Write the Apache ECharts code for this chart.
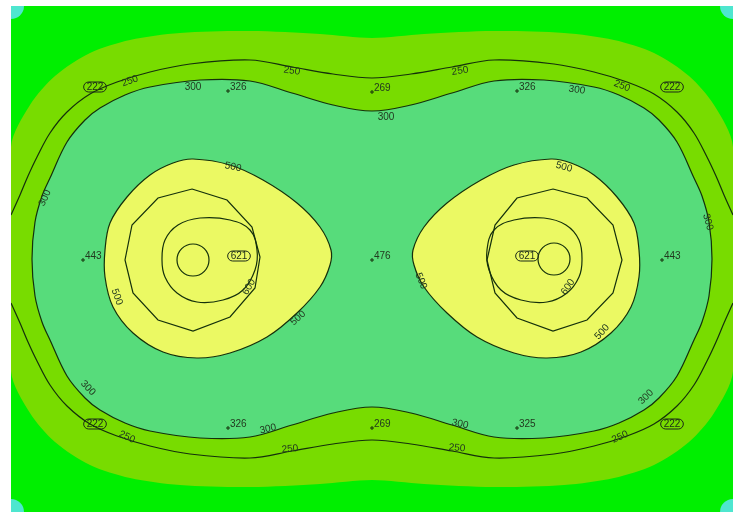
<!DOCTYPE html>
<html><head><meta charset="utf-8">
<script src="https://cdn.jsdelivr.net/npm/echarts@6/dist/echarts.min.js"></script>
<style>html,body{margin:0;padding:0;background:#fff}#c{width:733px;height:514px}</style>
</head><body><div id="c"></div>
<script>
// ---- data (plan coordinates) ----
const cornerPts = [[11,6],[733,6],[11,512],[733,512]];
const band200 = [[11,147],[30,105],[55,76],[90,53],[130,40],[180,33],[250,31],[320,34],[372,38],[424,34],[494,31],[564,33],[614,40],[654,53],[689,76],[714,105],[733,147],
  [733,371],[714,413],[689,442],[654,465],[614,478],[564,485],[494,487],[424,484],[372,480],[320,484],[250,487],[180,485],[130,478],[90,465],[55,442],[30,413],[11,371]];
const iso250Top = [[11,215],[20,195],[28,176],[37,157],[50,133],[67,112],[90,94],[117,82],[150,72],[190,64],[250,60],[292,67],[333,74],[372,78],[411,74],[452,67],[494,60],[554,64],[594,72],[627,82],[654,94],[677,112],[694,133],[707,157],[716,176],[724,195],[733,215]];
const iso250Bottom = [[11,303],[20,323],[28,342],[37,361],[50,385],[67,406],[90,424],[117,436],[150,446],[190,454],[250,458],[292,451],[333,444],[372,440],[411,444],[452,451],[494,458],[554,454],[594,446],[627,436],[654,424],[677,406],[694,385],[707,361],[716,342],[724,323],[733,303]];
const iso300 = [[32,259],[35,222],[42,196],[50,178],[67,142],[85,120],[100,108],[125,95],[150,87],[200,80],[250,81],[292,93],[333,105],[372,111],[411,105],[452,93],[494,81],[544,80],[594,87],[619,95],[644,108],[659,120],[677,142],[694,178],[702,196],[709,222],[712,259],[709,296],[702,322],[694,340],[677,376],[659,398],[644,410],[619,423],[594,431],[544,438],[494,437],[452,425],[411,413],[372,407],[333,413],[292,425],[250,437],[200,438],[150,431],[125,423],[100,410],[85,398],[67,376],[50,340],[42,322],[35,296]];
const iso500Left = [[193,159],[230,165],[263,180],[297,203],[320,227],[331,250],[330,265],[320,287],[297,313],[267,337],[230,353],[197,358],[163,352],[133,333],[113,307],[105,277],[105,250],[110,223],[127,197],[150,175],[173,163]];
const iso500Right = [[551,159],[514,165],[481,180],[447,203],[424,227],[413,250],[414,265],[424,287],[447,313],[477,337],[514,353],[547,358],[581,352],[611,333],[631,307],[639,277],[639,250],[634,223],[617,197],[594,175],[571,163]];
const polyLeft = [[192,189],[227,200],[252,227],[260,257],[255,288],[230,317],[193,331],[158,320],[133,293],[125,260],[132,225],[158,198]];
const polyRight = [[553,189],[587,198],[613,225],[622,260],[613,293],[587,320],[553,331],[517,318],[495,293],[487,260],[495,225],[517,198]];
const iso600Left = [[200,218],[230,220],[250,230],[257,250],[255,270],[243,290],[223,300],[197,302],[177,293],[165,277],[162,260],[165,240],[178,225]];
const iso600Right = [[544,218],[514,220],[494,230],[487,250],[489,270],[501,290],[521,300],[547,302],[567,293],[579,277],[582,260],[579,240],[566,225]];
const lampCentres = [[193,260],[554,259]];
const pointValues = ['326','269','326','443','476','443','326','269','325'];
const pointX = [228,372,517,83,372,662,228,372,517];
const pointY = [91,92,91,260,260,260,428,428,428];
const extremeValues = ['222','222','222','222','621','621'];
const extremeX = [95,672,95,672,239,527];
const extremeY = [87,87,424,424,256,256];
const contourLabels = [
  ['250',130,81,20],['300',193,87,0],['250',292,71,-8],['300',386,117,0],['250',460,71,8],['300',577,90,-8],['250',622,86,-22],
  ['300',45,198,66],['300',708,222,-74],
  ['500',233,167,-12],['500',117,297,-70],['600',249,287,60],['500',298,318,42],
  ['500',564,167,-15],['500',421,281,-68],['600',568,287,55],['500',602,332,48],
  ['300',88,388,-45],['250',127,437,-25],['300',268,429,12],['250',290,449,6],['300',460,424,-12],['250',457,448,-5],['250',620,437,25],['300',646,397,45]
];

// ---- styling ----
const C_GREEN = '#00ef00', C_BAND = '#78dc00', C_MID = '#57dc7b', C_YEL = '#ebf963', C_CYAN = '#4ee6cf';
const LINE = '#14300b';
const LW = 1.2;
const FONT = '10px "Liberation Sans", Arial, sans-serif';
const TXT = '#22391f';

function shapeSeries(points, closed, fill, stroke, smooth, z) {
  return {
    type: 'custom', coordinateSystem: 'cartesian2d', data: points, clip: true, silent: true, z: z,
    renderItem: function (params, api) {
      if (params.dataIndex !== 0) return null;
      const pts = points.map(p => api.coord(p));
      return {
        type: closed ? 'polygon' : 'polyline',
        shape: { points: pts, smooth: smooth },
        style: { fill: fill || 'none', stroke: stroke || 'none', lineWidth: LW }
      };
    }
  };
}

const series = [
  {
    type: 'custom', coordinateSystem: 'cartesian2d', data: cornerPts, clip: true, silent: true, z: 1,
    renderItem: function (params, api) {
      const c = api.coord(cornerPts[params.dataIndex]);
      const r = api.size([13, 13])[0];
      return { type: 'circle', shape: { cx: c[0], cy: c[1], r: r }, style: { fill: C_CYAN } };
    }
  },
  shapeSeries(band200, true, C_BAND, null, 0.3, 2),
  shapeSeries(iso300, true, C_MID, LINE, 0.35, 3),
  shapeSeries(iso500Left, true, C_YEL, LINE, 0.35, 4),
  shapeSeries(iso500Right, true, C_YEL, LINE, 0.35, 4),
  shapeSeries(iso250Top, false, null, LINE, 0.35, 5),
  shapeSeries(iso250Bottom, false, null, LINE, 0.35, 5),
  shapeSeries(polyLeft, true, null, LINE, 0, 5),
  shapeSeries(polyRight, true, null, LINE, 0, 5),
  shapeSeries(iso600Left, true, null, LINE, 0.4, 5),
  shapeSeries(iso600Right, true, null, LINE, 0.4, 5),
  {
    type: 'custom', coordinateSystem: 'cartesian2d', data: lampCentres, clip: true, silent: true, z: 6,
    renderItem: function (params, api) {
      const c = api.coord(lampCentres[params.dataIndex]);
      const r = api.size([16, 16])[0];
      return { type: 'circle', shape: { cx: c[0], cy: c[1], r: r }, style: { fill: 'none', stroke: LINE, lineWidth: LW } };
    }
  },
  {
    type: 'custom', coordinateSystem: 'cartesian2d', data: pointValues.map((v, i) => [pointX[i], pointY[i], v]), silent: true, z: 7,
    renderItem: function (params, api) {
      const i = params.dataIndex;
      const c = api.coord([pointX[i], pointY[i]]);
      return {
        type: 'group', children: [
          { type: 'line', shape: { x1: c[0] - 2, y1: c[1], x2: c[0] + 2, y2: c[1] }, style: { stroke: LINE, lineWidth: 1 } },
          { type: 'line', shape: { x1: c[0], y1: c[1] - 2, x2: c[0], y2: c[1] + 2 }, style: { stroke: LINE, lineWidth: 1 } },
          { type: 'text', x: c[0] + 2, y: c[1] - 4, style: { text: pointValues[i], font: FONT, fill: TXT, align: 'left', verticalAlign: 'middle' } }
        ]
      };
    }
  },
  {
    type: 'custom', coordinateSystem: 'cartesian2d', data: extremeValues.map((v, i) => [extremeX[i], extremeY[i], v]), silent: true, z: 7,
    renderItem: function (params, api) {
      const i = params.dataIndex;
      const c = api.coord([extremeX[i], extremeY[i]]);
      return {
        type: 'text', x: c[0], y: c[1],
        style: { text: extremeValues[i], font: FONT, fill: '#1b2a18', align: 'center', verticalAlign: 'middle',
          borderColor: '#1b2a18', borderWidth: 1, borderRadius: 5, padding: [0, 3, 0, 3] }
      };
    }
  },
  {
    type: 'custom', coordinateSystem: 'cartesian2d', data: contourLabels.map(l => [l[1], l[2], l[0]]), silent: true, z: 7,
    renderItem: function (params, api) {
      const l = contourLabels[params.dataIndex];
      const c = api.coord([l[1], l[2]]);
      return {
        type: 'text', x: c[0], y: c[1], rotation: l[3] * Math.PI / 180,
        style: { text: l[0], font: FONT, fill: TXT, align: 'center', verticalAlign: 'middle' }
      };
    }
  }
];

const chart = echarts.init(document.getElementById('c'), null, { renderer: 'canvas' });
chart.setOption({
  animation: false,
  grid: { left: 11, top: 6, right: 0, bottom: 2, show: true, backgroundColor: C_GREEN, borderWidth: 0, containLabel: false },
  xAxis: { type: 'value', min: 11, max: 733, show: false },
  yAxis: { type: 'value', min: 6, max: 512, inverse: true, show: false },
  series: series
});
</script></body></html>
